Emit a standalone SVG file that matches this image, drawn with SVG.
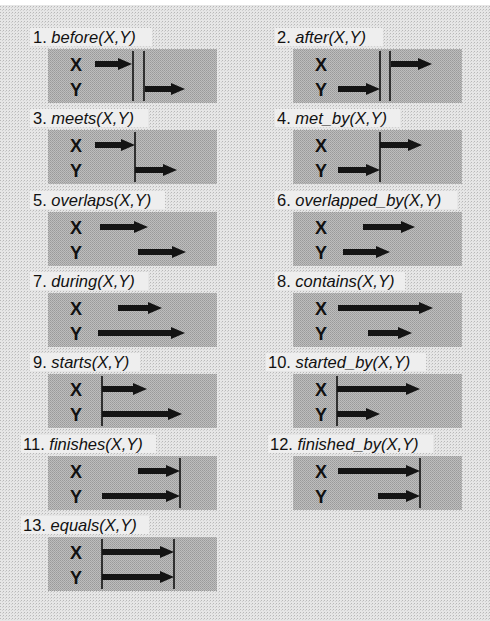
<svg xmlns="http://www.w3.org/2000/svg" width="490" height="621" viewBox="0 0 490 621">
  <defs>
    <pattern id="dots" width="3" height="3" patternUnits="userSpaceOnUse">
      <rect width="3" height="3" fill="#e6e6e6"/>
      <rect x="0" y="0" width="1" height="1" fill="#b8b8b8"/>
      <rect x="2" y="1" width="1" height="1" fill="#cfcfcf"/>
    </pattern>
    <pattern id="boxdots" width="2" height="2" patternUnits="userSpaceOnUse">
      <rect width="2" height="2" fill="#bdbdbd"/>
      <rect x="0" y="0" width="1" height="1" fill="#9a9a9a"/>
      <rect x="1" y="1" width="1" height="1" fill="#a4a4a4"/>
    </pattern>
    <marker id="head" viewBox="0 0 14 12" refX="1" refY="6" markerWidth="14" markerHeight="12" markerUnits="userSpaceOnUse" orient="auto">
      <path d="M0,0 L14,6 L0,12 Z" fill="#141414"/>
    </marker>
  </defs>
  <style>
    .lbl { font-family: "Liberation Sans", Arial, sans-serif; font-size: 16.5px; fill: #111; }
    .it { font-style: italic; }
    .var { font-family: "Liberation Sans", Arial, sans-serif; font-size: 18px; font-weight: bold; fill: #111; text-anchor: middle; }
    .box { fill: url(#boxdots); }
    .lblbg { fill: #eeeeee; }
    .arr { stroke: #141414; stroke-width: 6; fill: none; marker-end: url(#head); }
    .bar { stroke: #111; stroke-width: 1.6; }
  </style>

  <!-- page -->
  <rect width="490" height="621" fill="url(#dots)"/>
  <rect width="490" height="5" fill="#ffffff"/>

  <!-- 1. before -->
  <g id="before">
    <rect class="lblbg" x="30" y="28" width="122" height="18"/>
    <text class="lbl" x="33" y="43">1. <tspan class="it">before(X,Y)</tspan></text>
    <rect class="box" x="48" y="49" width="169" height="54"/>
    <text class="var" x="76" y="71">X</text>
    <text class="var" x="76" y="96">Y</text>
    <line class="arr" x1="95" y1="64" x2="119" y2="64"/>
    <line class="bar" x1="133" y1="51" x2="133" y2="101"/>
    <line class="bar" x1="144" y1="51" x2="144" y2="101"/>
    <line class="arr" x1="145" y1="89" x2="172" y2="89"/>
  </g>

  <!-- 2. after -->
  <g id="after">
    <rect class="lblbg" x="275" y="28" width="108" height="18"/>
    <text class="lbl" x="277" y="43">2. <tspan class="it">after(X,Y)</tspan></text>
    <rect class="box" x="293" y="49" width="169" height="54"/>
    <text class="var" x="321" y="71">X</text>
    <text class="var" x="321" y="96">Y</text>
    <line class="arr" x1="391" y1="64" x2="419" y2="64"/>
    <line class="bar" x1="380" y1="51" x2="380" y2="101"/>
    <line class="bar" x1="390" y1="51" x2="390" y2="101"/>
    <line class="arr" x1="338" y1="89" x2="367" y2="89"/>
  </g>

  <!-- 3. meets -->
  <g id="meets">
    <rect class="lblbg" x="30" y="109" width="118" height="18"/>
    <text class="lbl" x="33" y="124">3. <tspan class="it">meets(X,Y)</tspan></text>
    <rect class="box" x="48" y="130" width="169" height="54"/>
    <text class="var" x="76" y="152">X</text>
    <text class="var" x="76" y="177">Y</text>
    <line class="arr" x1="95" y1="145" x2="122" y2="145"/>
    <line class="bar" x1="135" y1="132" x2="135" y2="182"/>
    <line class="arr" x1="135" y1="170" x2="164" y2="170"/>
  </g>

  <!-- 4. met_by -->
  <g id="met_by">
    <rect class="lblbg" x="275" y="109" width="125" height="18"/>
    <text class="lbl" x="277" y="124">4. <tspan class="it">met_by(X,Y)</tspan></text>
    <rect class="box" x="293" y="130" width="169" height="54"/>
    <text class="var" x="321" y="152">X</text>
    <text class="var" x="321" y="177">Y</text>
    <line class="arr" x1="380" y1="145" x2="409" y2="145"/>
    <line class="bar" x1="380" y1="132" x2="380" y2="182"/>
    <line class="arr" x1="338" y1="170" x2="367" y2="170"/>
  </g>

  <!-- 5. overlaps -->
  <g id="overlaps">
    <rect class="lblbg" x="30" y="191" width="135" height="18"/>
    <text class="lbl" x="33" y="206">5. <tspan class="it">overlaps(X,Y)</tspan></text>
    <rect class="box" x="48" y="212" width="169" height="54"/>
    <text class="var" x="76" y="234">X</text>
    <text class="var" x="76" y="259">Y</text>
    <line class="arr" x1="100" y1="227" x2="135" y2="227"/>
    <line class="arr" x1="138" y1="252" x2="173" y2="252"/>
  </g>

  <!-- 6. overlapped_by -->
  <g id="overlapped_by">
    <rect class="lblbg" x="275" y="191" width="182" height="18"/>
    <text class="lbl" x="277" y="206">6. <tspan class="it">overlapped_by(X,Y)</tspan></text>
    <rect class="box" x="293" y="212" width="169" height="54"/>
    <text class="var" x="321" y="234">X</text>
    <text class="var" x="321" y="259">Y</text>
    <line class="arr" x1="363" y1="227" x2="402" y2="227"/>
    <line class="arr" x1="343" y1="252" x2="377" y2="252"/>
  </g>

  <!-- 7. during -->
  <g id="during">
    <rect class="lblbg" x="30" y="272" width="118" height="18"/>
    <text class="lbl" x="33" y="287">7. <tspan class="it">during(X,Y)</tspan></text>
    <rect class="box" x="48" y="293" width="169" height="54"/>
    <text class="var" x="76" y="315">X</text>
    <text class="var" x="76" y="340">Y</text>
    <line class="arr" x1="118" y1="308" x2="149" y2="308"/>
    <line class="arr" x1="98" y1="333" x2="172" y2="333"/>
  </g>

  <!-- 8. contains -->
  <g id="contains">
    <rect class="lblbg" x="275" y="272" width="130" height="18"/>
    <text class="lbl" x="277" y="287">8. <tspan class="it">contains(X,Y)</tspan></text>
    <rect class="box" x="293" y="293" width="169" height="54"/>
    <text class="var" x="321" y="315">X</text>
    <text class="var" x="321" y="340">Y</text>
    <line class="arr" x1="338" y1="308" x2="420" y2="308"/>
    <line class="arr" x1="368" y1="333" x2="399" y2="333"/>
  </g>

  <!-- 9. starts -->
  <g id="starts">
    <rect class="lblbg" x="30" y="353" width="110" height="18"/>
    <text class="lbl" x="33" y="368">9. <tspan class="it">starts(X,Y)</tspan></text>
    <rect class="box" x="48" y="374" width="169" height="54"/>
    <text class="var" x="76" y="396">X</text>
    <text class="var" x="76" y="421">Y</text>
    <line class="bar" x1="102" y1="376" x2="102" y2="426"/>
    <line class="arr" x1="102" y1="389" x2="134" y2="389"/>
    <line class="arr" x1="102" y1="414" x2="169" y2="414"/>
  </g>

  <!-- 10. started_by -->
  <g id="started_by">
    <rect class="lblbg" x="266" y="353" width="160" height="18"/>
    <text class="lbl" x="268" y="368">10. <tspan class="it">started_by(X,Y)</tspan></text>
    <rect class="box" x="293" y="374" width="169" height="54"/>
    <text class="var" x="321" y="396">X</text>
    <text class="var" x="321" y="421">Y</text>
    <line class="bar" x1="337" y1="376" x2="337" y2="426"/>
    <line class="arr" x1="337" y1="389" x2="407" y2="389"/>
    <line class="arr" x1="337" y1="414" x2="367" y2="414"/>
  </g>

  <!-- 11. finishes -->
  <g id="finishes">
    <rect class="lblbg" x="21" y="435" width="135" height="18"/>
    <text class="lbl" x="23" y="450">11. <tspan class="it">finishes(X,Y)</tspan></text>
    <rect class="box" x="48" y="456" width="169" height="54"/>
    <text class="var" x="76" y="478">X</text>
    <text class="var" x="76" y="503">Y</text>
    <line class="arr" x1="138" y1="471" x2="167" y2="471"/>
    <line class="arr" x1="102" y1="496" x2="167" y2="496"/>
    <line class="bar" x1="180" y1="458" x2="180" y2="508"/>
  </g>

  <!-- 12. finished_by -->
  <g id="finished_by">
    <rect class="lblbg" x="268" y="435" width="165" height="18"/>
    <text class="lbl" x="270" y="450">12. <tspan class="it">finished_by(X,Y)</tspan></text>
    <rect class="box" x="293" y="456" width="169" height="54"/>
    <text class="var" x="321" y="478">X</text>
    <text class="var" x="321" y="503">Y</text>
    <line class="arr" x1="338" y1="471" x2="407" y2="471"/>
    <line class="arr" x1="378" y1="496" x2="407" y2="496"/>
    <line class="bar" x1="420" y1="458" x2="420" y2="508"/>
  </g>

  <!-- 13. equals -->
  <g id="equals">
    <rect class="lblbg" x="21" y="516" width="128" height="18"/>
    <text class="lbl" x="23" y="531">13. <tspan class="it">equals(X,Y)</tspan></text>
    <rect class="box" x="48" y="537" width="169" height="54"/>
    <text class="var" x="76" y="559">X</text>
    <text class="var" x="76" y="584">Y</text>
    <line class="bar" x1="102" y1="539" x2="102" y2="589"/>
    <line class="bar" x1="174" y1="539" x2="174" y2="589"/>
    <line class="arr" x1="102" y1="552" x2="161" y2="552"/>
    <line class="arr" x1="102" y1="577" x2="161" y2="577"/>
  </g>
</svg>
